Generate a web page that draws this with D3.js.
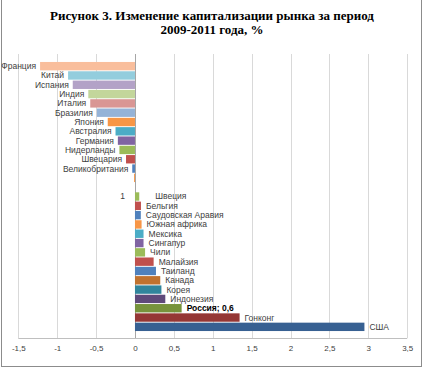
<!DOCTYPE html>
<html>
<head>
<meta charset="utf-8">
<script src="https://cdn.jsdelivr.net/npm/d3@7"></script>
<style>
  body { margin: 0; background: #fff; }
  svg { display: block; }
</style>
</head>
<body>
<div id="chart"></div>
<script>
// data, top to bottom
const countries = ["Франция", "Китай", "Испания", "Индия", "Италия", "Бразилия", "Япония",
  "Австралия", "Германия", "Нидерланды", "Швецария", "Великобритания", "", " ",
  "Швеция", "Бельгия", "Саудовская Аравия", "Южная африка", "Мексика", "Сингапур", "Чили",
  "Малайзия", "Таиланд", "Канада", "Корея", "Индонезия", "Россия", "Гонконг", "США"];
const changes = [-1.22, -0.86, -0.80, -0.60, -0.575, -0.49, -0.35,
  -0.25, -0.22, -0.20, -0.115, -0.035, -0.012, 0,
  0.055, 0.077, 0.075, 0.085, 0.11, 0.11, 0.13,
  0.24, 0.27, 0.325, 0.34, 0.39, 0.6, 1.345, 2.95];
const xTicks = [-1.5, -1, -0.5, 0, 0.5, 1, 1.5, 2, 2.5, 3, 3.5];
const titleLines = ["Рисунок 3. Изменение капитализации рынка за период", "2009-2011 года, %"];

// bar colours (style only)
const barColors = ["#f9be9c", "#93cddd", "#b3a2c7", "#c3d69b", "#d99694", "#95b3d7", "#f79646",
  "#4bacc6", "#8064a2", "#9bbb59", "#c0504d", "#4f81bd", "#f79646", "#ffffff",
  "#9bbb59", "#c0504d", "#4f81bd", "#f79646", "#4bacc6", "#8064a2", "#9bbb59",
  "#c0504d", "#4f81bd", "#c0722f", "#31859c", "#5f497a", "#77933c", "#953735", "#376092"];

const width = 423, height = 368;
const plotTop = 54, plotBottom = 338;
const labelFont = "'Liberation Sans', Arial, sans-serif";

const svg = d3.select("#chart").append("svg")
  .attr("width", width)
  .attr("height", height);

// outer frame
svg.append("rect")
  .attr("x", 1.5).attr("y", -2)
  .attr("width", 420).attr("height", 368.5)
  .attr("fill", "none")
  .attr("stroke", "#8c8c8c");

// title
svg.append("g").selectAll("text")
  .data(titleLines)
  .enter().append("text")
  .attr("x", 212)
  .attr("y", (d, i) => 19.5 + i * 14.5)
  .attr("text-anchor", "middle")
  .style("font-family", "'Liberation Serif', 'Times New Roman', serif")
  .style("font-weight", "bold")
  .style("font-size", "13px")
  .text(d => d);

const x = d3.scaleLinear().domain([-1.5, 3.5]).range([18.3, 407.2]);
const y = d3.scaleBand().domain(d3.range(countries.length))
  .range([61.5, 331.5]).paddingInner(0.1).paddingOuter(0.05);

// vertical gridlines
svg.append("g").selectAll("line")
  .data(xTicks)
  .enter().append("line")
  .attr("x1", d => Math.round(x(d)) + 0.5)
  .attr("x2", d => Math.round(x(d)) + 0.5)
  .attr("y1", plotTop).attr("y2", plotBottom)
  .attr("stroke", d => d === 0 ? "#a6a6a6" : "#d9d9d9");

// bottom axis line
svg.append("line")
  .attr("x1", x(-1.5)).attr("x2", x(3.5))
  .attr("y1", plotBottom + 0.5).attr("y2", plotBottom + 0.5)
  .attr("stroke", "#bfbfbf");

// x axis labels
const xAxis = d3.axisBottom(x)
  .tickValues(xTicks)
  .tickSize(0)
  .tickPadding(0)
  .tickFormat(d => String(d).replace(".", ","));

const gx = svg.append("g")
  .attr("transform", `translate(0,${plotBottom + 7})`)
  .call(xAxis);
gx.select(".domain").remove();
gx.selectAll("text")
  .style("font-family", labelFont)
  .style("font-size", "8px")
  .attr("fill", "#404040");

// bars
const rows = countries.map((c, i) => ({ name: c, value: changes[i], i: i }));

svg.append("g").selectAll("rect")
  .data(rows.filter(d => d.value !== 0))
  .enter().append("rect")
  .attr("x", d => x(Math.min(0, d.value)))
  .attr("width", d => Math.abs(x(d.value) - x(0)))
  .attr("y", d => y(d.i))
  .attr("height", y.bandwidth())
  .attr("fill", d => barColors[d.i]);

// data labels (category names)
svg.append("g").selectAll("text")
  .data(rows.filter(d => d.name.trim() !== ""))
  .enter().append("text")
  .attr("x", d => {
    if (d.value < 0) return x(d.value) - 4;
    if (d.name === "Швеция") return x(d.value) + 16;
    return x(d.value) + 5;
  })
  .attr("y", d => y(d.i) + y.bandwidth() / 2)
  .attr("dy", "0.35em")
  .attr("text-anchor", d => d.value < 0 ? "end" : "start")
  .style("font-family", labelFont)
  .style("font-size", "8.5px")
  .style("font-weight", d => d.name === "Россия" ? "bold" : "normal")
  .attr("fill", d => d.name === "Россия" ? "#000" : "#404040")
  .text(d => d.name === "Россия" ? "Россия; " + String(d.value).replace(".", ",") : d.name);

// stray "1" label beside Швеция
const sw = countries.indexOf("Швеция");
svg.append("text")
  .attr("x", x(0) - 10)
  .attr("y", y(sw) + y.bandwidth() / 2)
  .attr("dy", "0.35em")
  .attr("text-anchor", "end")
  .style("font-family", labelFont)
  .style("font-size", "8.5px")
  .attr("fill", "#404040")
  .text("1");
</script>
</body>
</html>
